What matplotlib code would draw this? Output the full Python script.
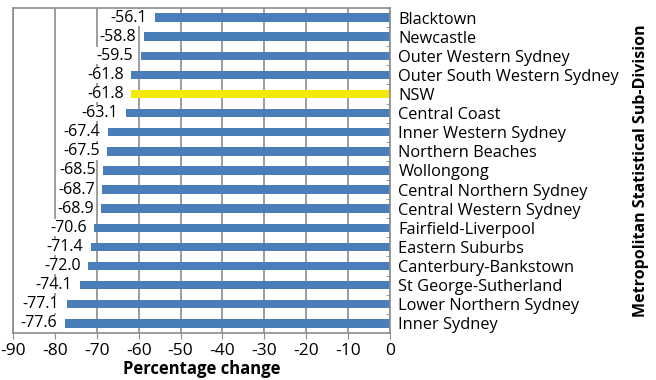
import matplotlib.pyplot as plt
import numpy as np

plt.rcParams['font.family'] = ['Open Sans', 'DejaVu Sans']

regions = ["Blacktown", "Newcastle", "Outer Western Sydney", "Outer South Western Sydney",
           "NSW", "Central Coast", "Inner Western Sydney", "Northern Beaches", "Wollongong",
           "Central Northern Sydney", "Central Western Sydney", "Fairfield-Liverpool",
           "Eastern Suburbs", "Canterbury-Bankstown", "St George-Sutherland",
           "Lower Northern Sydney", "Inner Sydney"]
change = [-56.1, -58.8, -59.5, -61.8, -61.8, -63.1, -67.4, -67.5, -68.5,
          -68.7, -68.9, -70.6, -71.4, -72.0, -74.1, -77.1, -77.6]
xticks = list(range(-90, 1, 10))

blue = "#4a7ebb"
yellow = "#f2e80c"
grey = "#8c8c8c"

fig = plt.figure(figsize=(6.56, 3.80), dpi=100)
ax = fig.add_axes([0.0198, 0.124, 0.5747, 0.855])

y = np.arange(len(regions))
colors = [yellow if r == "NSW" else blue for r in regions]
ax.barh(y, change, height=0.44, color=colors, zorder=2)

# value labels sit just left of each bar, masking the gridlines behind them
for yi, v in zip(y, change):
    ax.text(v - 1.8, yi, f"{v:.1f}", ha="right", va="center", fontsize=11.5,
            bbox=dict(facecolor="white", edgecolor="none", pad=0.2), zorder=3)

ax.set_xlim(-90, 0)
ax.set_ylim(len(regions) - 0.5, -0.5)
ax.set_xticks(xticks)
ax.set_xticklabels([str(t) for t in xticks], fontsize=12.5)
ax.grid(axis="x", color=grey, linewidth=1.2, zorder=0)

ax.yaxis.tick_right()
ax.set_yticks(y)
ax.set_yticklabels(regions, fontsize=11.8)
ax.tick_params(axis="y", which="major", length=0, pad=6)
ax.set_yticks(np.arange(-0.5, len(regions), 1), minor=True)
ax.tick_params(axis="y", which="minor", direction="in", length=3, color=grey)
ax.tick_params(axis="x", length=4, color=grey, pad=3)

for s in ax.spines.values():
    s.set_color(grey)
    s.set_linewidth(1.2)

ax.set_xlabel("Percentage change", fontsize=12, fontweight="bold", labelpad=1)
fig.text(0.977, 0.55, "Metropolitan Statistical Sub-Division", rotation=90,
         ha="center", va="center", fontsize=11.5, fontweight="bold")

plt.savefig("out.png", dpi=100)
